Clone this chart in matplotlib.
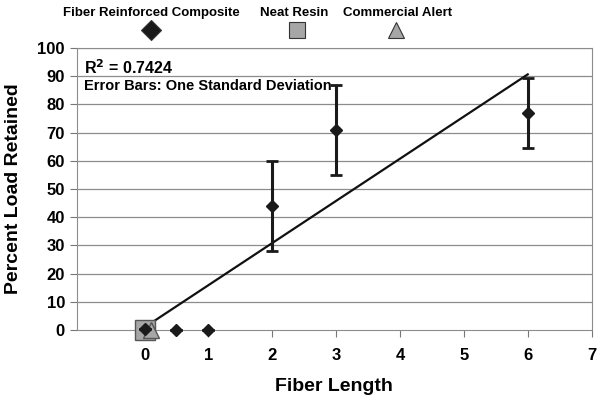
import matplotlib.pyplot as plt
import numpy as np
from matplotlib.lines import Line2D

plt.rcParams['font.family'] = ['Liberation Sans', 'DejaVu Sans']
plt.rcParams['font.weight'] = 'bold'

# fiber reinforced composite
fiber_len = [0, 0.5, 1, 2, 3, 6]
load_ret = [0.5, 0, 0, 44, 71, 77]
load_err = [0, 0, 0, 16, 16, 12.5]

# neat resin / commercial alert
resin_x, resin_y = [0], [0]
alert_x, alert_y = [0.1], [0]

r2_text = 'R$^2$ = 0.7424'
err_text = 'Error Bars: One Standard Deviation'

fig = plt.figure(figsize=(6, 4), dpi=100)
ax = fig.add_axes([0.128, 0.175, 0.858, 0.705])

for y in range(10, 101, 10):
    ax.axhline(y, color='#8c8c8c', lw=0.9, zorder=0)

# trend line
k, b = np.polyfit(fiber_len, load_ret, 1)
xs = np.array([0, 6])
ax.plot(xs, k * xs + b, color='#111111', lw=1.6, zorder=2)

ax.plot(resin_x, resin_y, 's', ms=15, color='#a6a6a6', mec='#555555', mew=1, zorder=3, clip_on=False)
ax.plot(alert_x, alert_y, '^', ms=12, color='#a6a6a6', mec='#555555', mew=1, zorder=3, clip_on=False)
ax.errorbar(fiber_len, load_ret, yerr=load_err, fmt='D', ms=6, color='#1a1a1a',
            ecolor='#1a1a1a', elinewidth=2.2, capsize=4, capthick=2, zorder=4, clip_on=False)

ax.set_xlim(-1.06, 7)
ax.set_ylim(0, 100)
ax.set_xticks(range(0, 8))
ax.set_yticks(range(0, 101, 10))
ax.tick_params(labelsize=12, length=5, color='#777777')
ax.tick_params(axis='x', pad=8)
for lab in ax.get_xticklabels() + ax.get_yticklabels():
    lab.set_fontweight('bold')
for s in ax.spines.values():
    s.set_color('#8c8c8c')

ax.set_xlabel('Fiber Length', fontsize=14, fontweight='bold', labelpad=11)
ax.set_ylabel('Percent Load Retained', fontsize=14, fontweight='bold', labelpad=11)

ax.text(-0.95, 93, r2_text, fontsize=11.5, fontweight='bold', va='center')
ax.text(-0.95, 86.5, err_text, fontsize=10.5, fontweight='bold', va='center')

# legend above the plot, labels over markers
leg_names = ['Fiber Reinforced Composite', 'Neat Resin', 'Commercial Alert']
leg_x = [0.253, 0.49, 0.662]
mark_x = [0.252, 0.495, 0.66]
leg_style = [('D', '#1a1a1a', 10), ('s', '#a6a6a6', 11), ('^', '#a6a6a6', 11)]
for name, x, mx, (m, c, s) in zip(leg_names, leg_x, mark_x, leg_style):
    fig.text(x, 0.967, name, ha='center', va='center', fontsize=9.5, fontweight='bold')
    fig.add_artist(Line2D([mx], [0.925], marker=m, ms=s, color=c, mec='#333333',
                          mew=0.8, ls='none', transform=fig.transFigure))

fig.savefig('out.png', dpi=100)
